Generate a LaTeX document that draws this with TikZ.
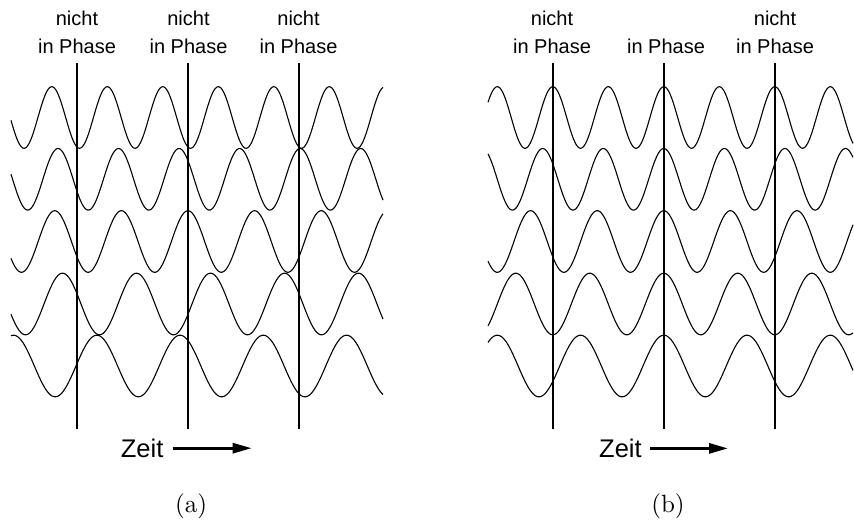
\documentclass[tikz,border=0pt]{standalone}
\usepackage{fontspec}
\newfontfamily\helv{Liberation Sans}
\newfontfamily\capfont{lmroman10-regular}[Extension=.otf]
\usetikzlibrary{arrows.meta}
\begin{document}
\begin{tikzpicture}[x=1pt,y=-1pt,
  wave/.style={line width=1.1pt, line join=round},
  phaseline/.style={line width=2pt},
  lbl/.style={font=\helv\fontsize{20}{28.3}\selectfont, align=center, inner sep=0pt, anchor=base},
  zeitlbl/.style={font=\helv\fontsize{25.5}{30}\selectfont, inner sep=0pt, anchor=base west},
  timearrow/.style={line width=2.8pt, -{Triangle[length=19pt,width=10pt]}},
  sublbl/.style={font=\capfont\fontsize{25}{30}\selectfont, inner sep=0pt, anchor=base}]
\useasboundingbox (0,0) rectangle (854,522);

% ---------- panel (a) ----------
\foreach \k/\c/\xp in {12/117.5/51.8, 11/179.3/58, 10/241.5/54.8, 9/304/62.5, 8/366/96.8}
  \draw[wave] plot[domain=11:383, samples=300] (\x, {\c - 30.8*cos(0.540541*\k*(\x-\xp))});

\foreach \n/\xx in {1/77, 2/188.3, 3/298.5}{
  \coordinate (atop\n) at (\xx,63);
  \coordinate (abot\n) at (\xx,428.5);
  \draw[phaseline] (atop\n) -- (abot\n);
}
\node[lbl] (la1) at (77,53.3) {nicht\\in Phase};
\node[lbl] (la2) at (188.5,53.3) {nicht\\in Phase};
\node[lbl] (la3) at (298.5,53.3) {nicht\\in Phase};

\node[zeitlbl] (zeitA) at (120.7,457.3) {Zeit};
\coordinate (arrAend) at (251.7,450);
\draw[timearrow] ([xshift=9pt]zeitA.east) -- (zeitA.east -| arrAend);
\node[sublbl] (capA) at (191,512.8) {(a)};

% ---------- panel (b) ----------
\foreach \k/\c in {12/117.5, 11/179.3, 10/241.5, 9/304, 8/366}
  \draw[wave] plot[domain=488:853, samples=300] (\x, {\c - 30.8*cos(0.540541*\k*(\x-663.8))});

\foreach \n/\xx in {1/552.5, 2/664, 3/775.3}{
  \coordinate (btop\n) at (\xx,63);
  \coordinate (bbot\n) at (\xx,428.5);
  \draw[phaseline] (btop\n) -- (bbot\n);
}
\node[lbl] (lb1) at (552,53.3) {nicht\\in Phase};
\node[lbl] (lb2) at (666,53.3) {in Phase};
\node[lbl] (lb3) at (775,53.3) {nicht\\in Phase};

\node[zeitlbl] (zeitB) at (599,457.5) {Zeit};
\coordinate (arrBend) at (728,450);
\draw[timearrow] ([xshift=8pt]zeitB.east) -- (zeitB.east -| arrBend);
\node[sublbl] (capB) at (668,512.8) {(b)};
\end{tikzpicture}
\end{document}
